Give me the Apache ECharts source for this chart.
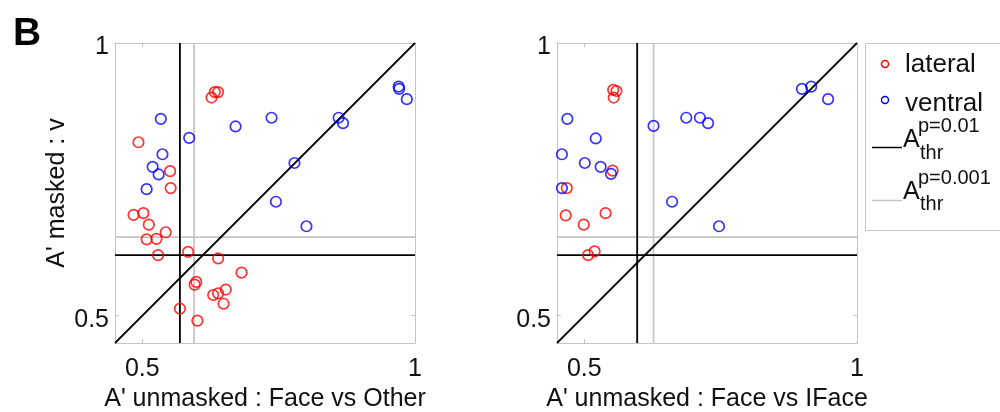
<!DOCTYPE html>
<html>
<head>
<meta charset="utf-8">
<script src="https://cdn.jsdelivr.net/npm/echarts@6/dist/echarts.min.js"></script>
<style>html,body{margin:0;padding:0;background:#fff}#c{width:1000px;height:412px}</style>
</head>
<body>
<div id="c"></div>
<script>
// ---- data ----
var axisMin = 0.45, axisMax = 1;
var tickValues = [0.5, 1];
var xTitles = ["A' unmasked : Face vs Other", "A' unmasked : Face vs IFace"];
var yTitle = "A' masked : v";

// left panel (Face vs Other)
var leftLateral = [
  [0.627,0.900],[0.633,0.910],[0.639,0.910],[0.493,0.818],[0.551,0.765],[0.552,0.734],
  [0.484,0.685],[0.502,0.688],[0.512,0.667],[0.543,0.653],[0.508,0.640],[0.526,0.641],
  [0.529,0.611],[0.584,0.617],[0.639,0.605],[0.682,0.579],[0.599,0.562],[0.596,0.557],
  [0.630,0.538],[0.639,0.541],[0.653,0.548],[0.649,0.522],[0.569,0.513],[0.601,0.491]
];
var leftVentral = [
  [0.534,0.861],[0.586,0.826],[0.671,0.847],[0.737,0.863],[0.860,0.863],[0.868,0.853],
  [0.970,0.920],[0.971,0.916],[0.985,0.897],[0.537,0.796],[0.519,0.773],[0.530,0.759],
  [0.508,0.732],[0.779,0.780],[0.745,0.709],[0.801,0.664]
];
// right panel (Face vs IFace)
var rightLateral = [
  [0.553,0.914],[0.559,0.912],[0.554,0.900],[0.552,0.766],[0.468,0.734],[0.466,0.684],
  [0.499,0.667],[0.539,0.688],[0.507,0.611],[0.519,0.618]
];
var rightVentral = [
  [0.469,0.861],[0.521,0.825],[0.627,0.848],[0.687,0.863],[0.712,0.863],[0.727,0.853],
  [0.899,0.916],[0.916,0.920],[0.947,0.897],[0.459,0.796],[0.501,0.780],[0.530,0.773],
  [0.549,0.760],[0.459,0.734],[0.661,0.709],[0.747,0.664]
];
// thresholds [p=0.01, p=0.001]
var thrX = [[0.569, 0.595], [0.597, 0.627]];
var thrY = [0.611, 0.644];

// ---- chart ----
var FONT = 'Liberation Sans, Arial, sans-serif';
var GRAY = '#c4c4c4';
var grids = [
  {left: 115, top: 43, width: 300, height: 300, outerBoundsMode: 'none', containLabel: false},
  {left: 557, top: 43, width: 300, height: 300, outerBoundsMode: 'none', containLabel: false}
];
function fmt(v){ return v === 1 ? '1' : String(v); }
var xAxes = [], yAxes = [];
[0,1].forEach(function(g){
  xAxes.push({
    type:'value', gridIndex:g, min:axisMin, max:axisMax, position:'bottom',
    name: xTitles[g], nameLocation:'middle', nameGap:42,
    nameTextStyle:{fontSize:25, color:'#111', fontFamily:FONT},
    axisLine:{show:true, lineStyle:{color:GRAY, width:1}},
    axisTick:{show:true, inside:true, length:4, customValues:tickValues, lineStyle:{color:GRAY}},
    axisLabel:{customValues:tickValues, formatter:fmt, fontSize:25, color:'#111', fontFamily:FONT, margin:14},
    splitLine:{show:false}
  });
  yAxes.push({
    type:'value', gridIndex:g, min:axisMin, max:axisMax, position:'left',
    name: g === 0 ? yTitle : '', nameLocation:'middle', nameGap:45,
    nameTextStyle:{fontSize:25, color:'#111', fontFamily:FONT},
    axisLine:{show:true, lineStyle:{color:GRAY, width:1}},
    axisTick:{show:true, inside:true, length:4, customValues:tickValues, lineStyle:{color:GRAY}},
    axisLabel:{customValues:tickValues, formatter:fmt, fontSize:25, color:'#111', fontFamily:FONT, margin:6,
      verticalAlign:'top', lineHeight:9},
    splitLine:{show:false}
  });
});
[0,1].forEach(function(g){
  xAxes.push({
    type:'value', gridIndex:g, min:axisMin, max:axisMax, position:'top',
    axisLine:{show:true, onZero:false, lineStyle:{color:GRAY, width:1}},
    axisTick:{show:true, inside:true, length:4, customValues:tickValues, lineStyle:{color:GRAY}},
    axisLabel:{show:false}, splitLine:{show:false}
  });
  yAxes.push({
    type:'value', gridIndex:g, min:axisMin, max:axisMax, position:'right',
    axisLine:{show:true, onZero:false, lineStyle:{color:GRAY, width:1}},
    axisTick:{show:true, inside:true, length:4, customValues:tickValues, lineStyle:{color:GRAY}},
    axisLabel:{show:false}, splitLine:{show:false}
  });
});

function lineSeries(g, data, color, width){
  return {type:'line', xAxisIndex:g, yAxisIndex:g, data:data, symbol:'none', silent:true,
    lineStyle:{color:color, width:width}, animation:false, z:1};
}
function scatter(g, data, color){
  return {type:'scatter', xAxisIndex:g, yAxisIndex:g, data:data, symbol:'circle', symbolSize:10.5,
    itemStyle:{color:'rgba(0,0,0,0)', borderColor:color, borderWidth:1.7}, animation:false, z:3};
}
var series = [];
[0,1].forEach(function(g){
  series.push(lineSeries(g, [[thrX[g][1],axisMin],[thrX[g][1],axisMax]], GRAY, 1.7));
  series.push(lineSeries(g, [[axisMin,thrY[1]],[axisMax,thrY[1]]], GRAY, 1.7));
  series.push(lineSeries(g, [[thrX[g][0],axisMin],[thrX[g][0],axisMax]], '#000', 1.8));
  series.push(lineSeries(g, [[axisMin,thrY[0]],[axisMax,thrY[0]]], '#000', 1.8));
  series.push(lineSeries(g, [[axisMin,axisMin],[axisMax,axisMax]], '#000', 1.8));
});
series.push(scatter(0, leftLateral, '#ff0000'));
series.push(scatter(0, leftVentral, '#0000ff'));
series.push(scatter(1, rightLateral, '#ff0000'));
series.push(scatter(1, rightVentral, '#0000ff'));

var tf = function(size){ return size + 'px ' + FONT; };
var graphic = [
  {type:'text', left:13, top:15, style:{text:'B', font:'bold 39px ' + FONT, fill:'#000'}},
  {type:'group', children:[
    {type:'rect', shape:{x:865.5, y:43.5, width:200, height:187}, style:{fill:'#fff', stroke:GRAY, lineWidth:1}},
    {type:'circle', shape:{cx:885, cy:64, r:3.5}, style:{fill:'none', stroke:'#ff0000', lineWidth:1.5}},
    {type:'text', x:905, y:65, style:{text:'lateral', font:tf(26), fill:'#111', verticalAlign:'middle'}},
    {type:'circle', shape:{cx:885, cy:100, r:3.5}, style:{fill:'none', stroke:'#0000ff', lineWidth:1.5}},
    {type:'text', x:905, y:104, style:{text:'ventral', font:tf(26), fill:'#111', verticalAlign:'middle'}},
    {type:'line', shape:{x1:872, y1:147.5, x2:902, y2:147.5}, style:{stroke:'#000', lineWidth:1.5}},
    {type:'text', x:903, y:140, style:{text:'A', font:tf(25), fill:'#111', verticalAlign:'middle'}},
    {type:'text', x:918, y:126, style:{text:'p=0.01', font:tf(20), fill:'#111', verticalAlign:'middle'}},
    {type:'text', x:920, y:153, style:{text:'thr', font:tf(20), fill:'#111', verticalAlign:'middle'}},
    {type:'line', shape:{x1:872, y1:200.5, x2:902, y2:200.5}, style:{stroke:GRAY, lineWidth:1.5}},
    {type:'text', x:903, y:192, style:{text:'A', font:tf(25), fill:'#111', verticalAlign:'middle'}},
    {type:'text', x:918, y:178, style:{text:'p=0.001', font:tf(20), fill:'#111', verticalAlign:'middle'}},
    {type:'text', x:920, y:204, style:{text:'thr', font:tf(20), fill:'#111', verticalAlign:'middle'}}
  ]}
];

var chart = echarts.init(document.getElementById('c'), null, {renderer:'canvas'});
chart.setOption({
  animation:false,
  backgroundColor:'#fff',
  grid:grids, xAxis:xAxes, yAxis:yAxes, series:series, graphic:graphic
});
</script>
</body>
</html>
